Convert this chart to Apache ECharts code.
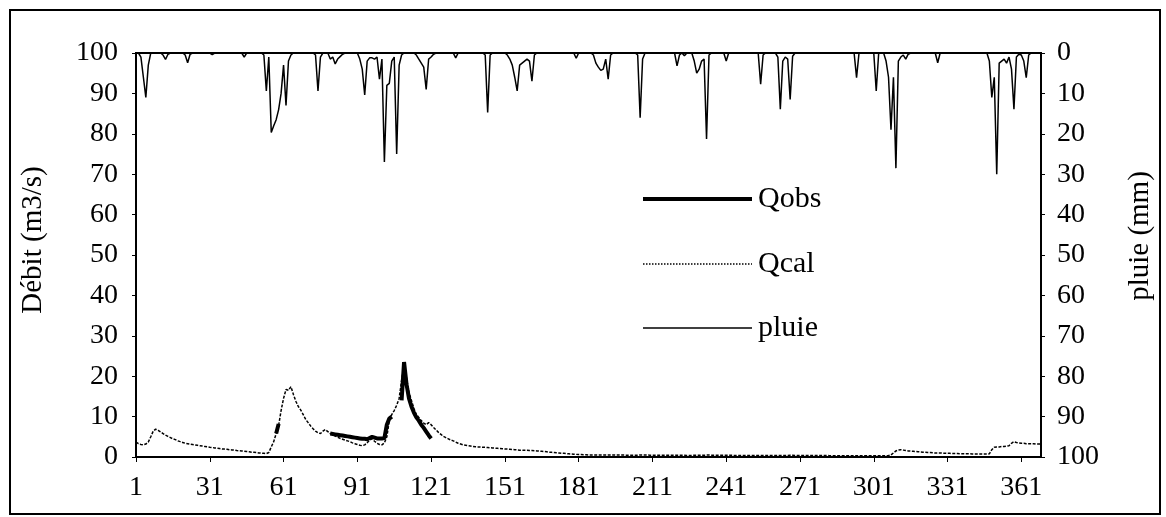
<!DOCTYPE html>
<html>
<head>
<meta charset="utf-8">
<script src="https://cdn.jsdelivr.net/npm/echarts@6/dist/echarts.min.js"></script>
<style>
html,body{margin:0;padding:0;background:#fff;}
#chart{width:1166px;height:517px;}
</style>
</head>
<body>
<div id="chart"></div>
<script>
// ---- data ----
var dayCount = 369;
var xTickLabels = ['1','31','61','91','121','151','181','211','241','271','301','331','361'];
var leftTicks = [0,10,20,30,40,50,60,70,80,90,100];
var rightTicks = [0,10,20,30,40,50,60,70,80,90,100];
var seriesNames = ['Qobs', 'Qcal', 'pluie'];

// Qcal (m3/s), one value per day 1..369
var qcal = [
 3.7,3.3,3.1,3.0,3.2,3.7,5.0,6.4,6.9,6.6,
 6.2,5.8,5.4,5.1,4.8,4.5,4.3,4.0,3.8,3.6,
 3.4,3.3,3.2,3.1,3.0,2.9,2.8,2.7,2.6,2.5,
 2.4,2.35,2.25,2.2,2.1,2.0,1.95,1.9,1.8,1.75,
 1.7,1.6,1.55,1.5,1.45,1.35,1.3,1.2,1.15,1.1,
 1.0,0.95,0.9,0.85,1.1,2.5,3.8,5.8,7.8,11.5,
 14.5,16.7,16.5,17.4,15.5,13.8,12.5,11.6,10.5,9.3,
 8.5,7.7,7.0,6.4,6.0,5.8,6.4,6.8,6.3,5.8,
 5.5,5.2,4.9,4.6,4.4,4.2,4.0,3.8,3.5,3.3,
 3.1,2.9,2.8,3.0,3.5,4.2,4.5,3.9,3.4,3.1,
 3.0,3.5,5.0,9.0,10.5,11.5,12.8,14.5,19.0,23.0,
 19.5,16.0,14.0,12.0,10.5,9.8,9.0,8.4,8.0,8.5,
 8.0,7.3,6.7,6.1,5.6,5.1,4.8,4.5,4.2,4.0,
 3.7,3.4,3.2,3.0,2.9,2.8,2.7,2.6,2.55,2.5,
 2.45,2.4,2.4,2.35,2.3,2.25,2.2,2.15,2.1,2.05,
 2.0,1.95,1.9,1.85,1.8,1.75,1.7,1.7,1.65,1.65,
 1.6,1.6,1.55,1.5,1.45,1.4,1.35,1.3,1.2,1.15,
 1.1,1.05,1.0,0.95,0.9,0.85,0.8,0.75,0.7,0.65,
 0.6,0.6,0.55,0.55,0.5,0.5,0.5,0.5,0.5,0.5,
 0.5,0.5,0.5,0.5,0.5,0.48,0.48,0.47,0.47,0.46,
 0.46,0.45,0.45,0.45,0.45,0.5,0.5,0.48,0.47,0.46,
 0.45,0.45,0.44,0.44,0.43,0.43,0.42,0.42,0.42,0.41,
 0.42,0.42,0.41,0.41,0.4,0.4,0.4,0.41,0.42,0.42,
 0.42,0.43,0.48,0.48,0.46,0.45,0.44,0.43,0.42,0.42,
 0.42,0.41,0.41,0.4,0.4,0.4,0.39,0.39,0.39,0.38,
 0.38,0.38,0.38,0.37,0.38,0.38,0.37,0.37,0.37,0.36,
 0.36,0.36,0.4,0.4,0.39,0.39,0.42,0.41,0.4,0.39,
 0.38,0.38,0.37,0.37,0.36,0.36,0.36,0.35,0.35,0.35,
 0.35,0.35,0.34,0.34,0.34,0.34,0.34,0.33,0.33,0.33,
 0.33,0.33,0.33,0.34,0.34,0.33,0.33,0.33,0.33,0.32,
 0.32,0.33,0.34,0.34,0.33,0.33,0.35,0.5,1.0,1.5,
 1.7,1.8,1.7,1.6,1.5,1.45,1.4,1.35,1.3,1.25,
 1.2,1.15,1.1,1.1,1.05,1.0,1.0,1.0,0.95,0.95,
 0.9,0.9,0.88,0.86,0.85,0.83,0.82,0.8,0.8,0.78,
 0.77,0.76,0.75,0.74,0.73,0.72,0.72,0.8,1.8,2.4,
 2.5,2.5,2.6,2.6,2.7,2.8,3.4,3.8,3.6,3.5,
 3.4,3.4,3.3,3.3,3.3,3.3,3.2,3.2,3.2
];

// Qobs (m3/s): [day, value], only observed days
var qobsObserved = [
 [58,5.8],[59,8.2],
 [80,5.8],[81,5.7],[82,5.6],[83,5.5],[84,5.4],[85,5.3],[86,5.2],[87,5.1],[88,5.0],[89,4.9],
 [90,4.8],[91,4.7],[92,4.6],[93,4.5],[94,4.5],[95,4.4],[96,4.7],[97,5.0],[98,4.8],[99,4.6],
 [100,4.6],[101,4.6],[102,4.7],[103,8.0],[104,9.5],[105,10.0],
 [109,14.0],[110,23.5],[111,18.0],[112,14.5],[113,12.5],[114,11.0],[115,9.8],[116,9.0],
 [117,8.0],[118,7.2],[119,6.3],[120,5.4],[121,4.6]
];

// pluie (mm): [day, value] for rainy days, other days are 0
var rainDays = [
 [3,1],[4,6],[5,11],[6,3],
 [12,0.5],[13,1.6],[14,0.3],
 [21,0.5],[22,2.4],[23,0.3],
 [32,0.4],[45,1.0],
 [53,0.5],[54,9.4],[55,1],[56,19.7],[57,18],[58,16.5],[59,14],[60,10],[61,3],[62,13],[63,2],[64,0.5],
 [74,0.5],[75,9.4],[76,1],
 [80,1.5],[81,1.0],[82,2.7],[83,1.5],[84,0.9],[85,0.3],
 [92,1.5],[93,4],[94,10.4],[95,2],[96,1.2],[97,1.2],[98,1.5],[99,1],[100,6.5],[101,1.5],
 [102,27],[103,8],[104,7.5],[105,2],[106,1],[107,25],[108,3],[109,0.5],
 [115,0.5],[116,1.5],[117,2.5],[118,3.5],[119,9],[120,1.5],[121,1],[122,0.3],
 [131,1.2],
 [143,0.5],[144,14.7],[145,0.5],
 [152,0.5],[153,1.5],[154,3],[155,6],[156,9.4],[157,3],[158,2.5],[159,2],[160,1.5],[161,2],[162,7],[163,0.5],
 [180,1.3],
 [187,0.5],[188,2.5],[189,3.5],[190,4.3],[191,4],[192,1.5],[193,6.5],[194,0.5],
 [205,0.5],[206,16],[207,1.5],
 [221,3.2],[222,0.5],[224,0.7],
 [228,2],[229,5],[230,4],[231,2],[232,1.5],[233,21.3],[234,0.5],
 [241,2],
 [255,7.7],[256,0.5],
 [262,1],[263,13.9],[264,2],[265,1],[266,1.5],[267,11.5],[268,0.8],
 [294,6.1],
 [302,9.4],
 [306,2],[307,6],[308,19],[309,6],[310,28.5],[311,2],[312,1],[313,0.5],[314,1.5],[315,0.3],
 [327,2.4],
 [348,2],[349,11],[350,6],[351,30],[352,2.5],[353,2],[354,1.5],[355,2.5],[356,1],[357,4],
 [358,13.9],[359,1],[360,0.3],[361,0.5],[362,2],[363,6.1],[364,0.5]
];

// ---- build tables ----
var days = [];
for (var i = 1; i <= dayCount; i++) days.push(String(i));
var rain = days.map(function(){ return 0; });
rainDays.forEach(function(p){ rain[p[0]-1] = p[1]; });
var qobs = days.map(function(){ return null; });
qobsObserved.forEach(function(p){ qobs[p[0]-1] = p[1]; });

var FONT = '"Liberation Serif", "Times New Roman", serif';
var TICKFS = 28;
var chart = echarts.init(document.getElementById('chart'), null, {renderer:'canvas'});
var tickSet = {};
xTickLabels.forEach(function(t){ tickSet[t] = true; });

var styles = {
  Qobs: {color: '#000', width: 4, type: 'solid'},
  Qcal: {color: '#000', width: 1.5, type: [3, 1.5]},
  pluie: {color: '#000', width: 1.5, type: 'solid'}
};
var legendDash = {Qobs: null, Qcal: [1.5, 1.5], pluie: null};

// legend drawn as graphic lines + text
var legendGraphics = [];
var legendY = [199, 264, 328];
seriesNames.forEach(function(n, k){
  legendGraphics.push({type: 'line', silent: true,
    shape: {x1: 643, y1: legendY[k], x2: 752, y2: legendY[k]},
    style: {stroke: '#000', lineWidth: styles[n].width, lineDash: legendDash[n]}});
  legendGraphics.push({type: 'text', silent: true, x: 758, y: legendY[k],
    style: {text: n, font: '30px ' + FONT, fill: '#000', textAlign: 'left', textVerticalAlign: 'middle'}});
});

chart.setOption({
  animation: false,
  backgroundColor: '#fff',
  grid: {left: 136, right: 125, top: 53, bottom: 60, show: true, borderColor: '#000', borderWidth: 2},
  xAxis: {
    type: 'category', data: days, boundaryGap: false,
    axisLine: {lineStyle: {color: '#000', width: 1.5}},
    axisTick: {length: 5, lineStyle: {color: '#000'}, interval: function(idx, val){ return !!tickSet[val]; }},
    axisLabel: {interval: function(idx, val){ return !!tickSet[val]; }, margin: 17,
      fontFamily: FONT, fontSize: TICKFS, color: '#000'},
    splitLine: {show: false}
  },
  yAxis: [
    {type: 'value', min: 0, max: 100, interval: 10,
     axisLine: {show: true, lineStyle: {color: '#000', width: 1.5}},
     axisTick: {show: true, length: 4, lineStyle: {color: '#000'}},
     axisLabel: {margin: 18, fontFamily: FONT, fontSize: TICKFS, color: '#000',
       formatter: function(v){ return leftTicks.indexOf(v) >= 0 ? String(v) : ''; }},
     splitLine: {show: false}},
    {type: 'value', min: 0, max: 100, interval: 10, inverse: true, position: 'right',
     axisLine: {show: true, lineStyle: {color: '#000', width: 1.5}},
     axisTick: {show: true, length: 4, lineStyle: {color: '#000'}},
     axisLabel: {margin: 16, fontFamily: FONT, fontSize: TICKFS, color: '#000',
       formatter: function(v){ return rightTicks.indexOf(v) >= 0 ? String(v) : ''; }},
     splitLine: {show: false}}
  ],
  graphic: [
    {type: 'rect', shape: {x: 10, y: 10, width: 1150, height: 504}, silent: true,
     style: {fill: 'none', stroke: '#000', lineWidth: 2}},
    {type: 'text', x: 33, y: 240, rotation: Math.PI/2, silent: true,
     style: {text: 'Débit (m3/s)', font: '29px ' + FONT, fill: '#000', textAlign: 'center', textVerticalAlign: 'middle'}},
    {type: 'text', x: 1140, y: 236, rotation: Math.PI/2, silent: true,
     style: {text: 'pluie (mm)', font: '29px ' + FONT, fill: '#000', textAlign: 'center', textVerticalAlign: 'middle'}}
  ].concat(legendGraphics),
  series: [
    {name: 'Qobs', type: 'line', yAxisIndex: 0, data: qobs, symbol: 'none', showSymbol: false, connectNulls: false,
     lineStyle: styles.Qobs, itemStyle: {color: '#000'}, z: 3},
    {name: 'Qcal', type: 'line', yAxisIndex: 0, data: qcal, symbol: 'none', showSymbol: false,
     lineStyle: styles.Qcal, itemStyle: {color: '#000'}, z: 2},
    {name: 'pluie', type: 'line', yAxisIndex: 1, data: rain, symbol: 'none', showSymbol: false,
     lineStyle: styles.pluie, itemStyle: {color: '#000'}, z: 4}
  ]
});
</script>
</body>
</html>
